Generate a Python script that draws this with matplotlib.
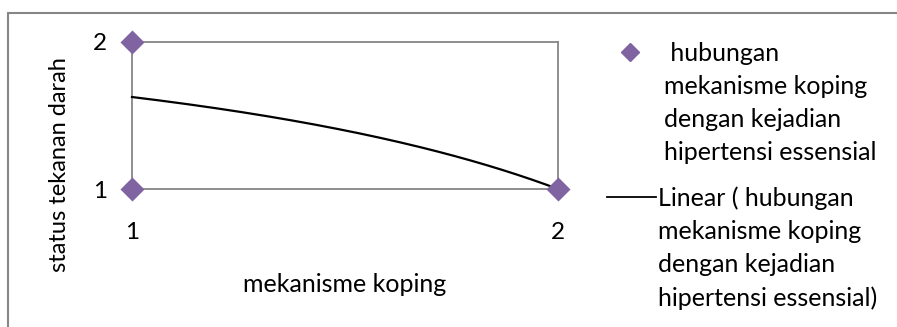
import numpy as np
import matplotlib
matplotlib.use("Agg")
import matplotlib.pyplot as plt
from matplotlib.lines import Line2D
from matplotlib.patches import Rectangle

# ---- data ----
x_vals = [1, 1, 2]
y_vals = [2, 1, 1]
trend_x = [1, 2]
trend_y = [1.543, 1.0]   # linear trendline values read at x=1 and x=2
x_ticks = [1, 2]
y_ticks = [1, 2]
x_label = "mekanisme koping"
y_label = "status tekanan darah"
series_label = " hubungan\nmekanisme koping\ndengan kejadian\nhipertensi essensial"
trend_label = "Linear ( hubungan\nmekanisme koping\ndengan kejadian\nhipertensi essensial)"

plt.rcParams['font.family'] = ['Lato', 'DejaVu Sans']
W, H = 897, 327
fig = plt.figure(figsize=(W / 100, H / 100), dpi=100)

FS = 18

# outer chart border
fig.patches.append(Rectangle((8 / W, -0.1), 1.2, (H - 13) / H + 0.1, transform=fig.transFigure,
                             fill=False, edgecolor='#868686', linewidth=1.5))

ax = fig.add_axes([132 / W, 1 - 189 / H, (558 - 132) / W, (189 - 42) / H])
ax.set_xscale('log', base=2)
ax.set_yscale('log', base=2)

# trendline: linear in data space, drawn on the log axes
tx = np.linspace(trend_x[0], trend_x[1], 200)
slope = (trend_y[1] - trend_y[0]) / (trend_x[1] - trend_x[0])
ty = trend_y[0] + slope * (tx - trend_x[0])
ax.plot(tx, ty, color='black', linewidth=1.6, zorder=3, clip_on=False)

ax.scatter(x_vals, y_vals, marker='D', s=150, color='#8064A2', zorder=4, clip_on=False,
           linewidths=0)

ax.set_xlim(1, 2)
ax.set_ylim(1, 2)
ax.set_xticks(x_ticks)
ax.set_yticks(y_ticks)
ax.set_xticklabels([str(v) for v in x_ticks])
ax.set_yticklabels([str(v) for v in y_ticks])
ax.minorticks_off()
ax.tick_params(axis='both', length=0, labelsize=17.5)
ax.tick_params(axis='x', pad=24)
ax.tick_params(axis='y', pad=18)
for s in ax.spines.values():
    s.set_color('#868686')
    s.set_linewidth(1.3)

fig.text(345 / W, 1 - 285 / H, x_label, ha='center', va='center', fontsize=FS)
fig.text(60 / W, 1 - 165 / H, y_label, ha='center', va='center', rotation=90, fontsize=17)

# legend (manual)
fig.add_artist(Line2D([630 / W], [1 - 52 / H], marker='D', markersize=9, color='#8064A2',
                      linestyle='none', transform=fig.transFigure))
fig.text(664 / W, 1 - 42 / H, series_label, ha='left', va='top', fontsize=FS,
         linespacing=1.53, multialignment='left')
fig.add_artist(Line2D([607 / W, 656 / W], [1 - 197 / H, 1 - 197 / H], color='black',
                      linewidth=1.3, transform=fig.transFigure))
fig.text(658 / W, 1 - 186 / H, trend_label, ha='left', va='top', fontsize=FS,
         linespacing=1.53, multialignment='left')

fig.savefig("out.png", dpi=100)
